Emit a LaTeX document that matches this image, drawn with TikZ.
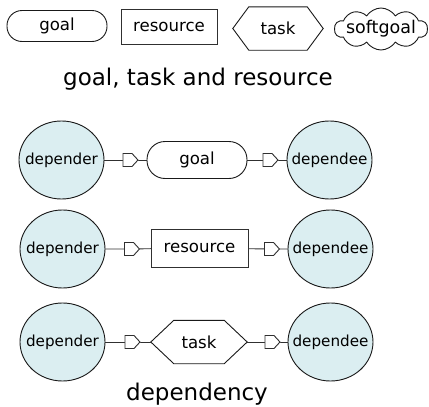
\documentclass[tikz,border=0pt]{standalone}
\usepackage{fontspec}
\setmainfont{DejaVu Sans}
\usepackage{xcolor}
\usetikzlibrary{shapes.geometric,shapes.symbols}
\definecolor{actorfill}{HTML}{DBEEF1}
\definecolor{edgegray}{HTML}{303030}
\tikzset{
  actor/.style={ellipse, draw=black!90, line width=0.9pt, fill=actorfill, minimum width=85pt, minimum height=78pt, inner sep=0pt, font=\fontsize{15.2}{17}\selectfont},
  goalbox/.style={rectangle, rounded corners=18pt, draw=black!90, line width=0.9pt, fill=white, minimum width=100pt, minimum height=37pt, inner sep=0pt, font=\fontsize{16.6}{19}\selectfont},
  resbox/.style={rectangle, draw=edgegray, line width=0.9pt, fill=white, minimum width=97pt, minimum height=38pt, inner sep=0pt, font=\fontsize{16.6}{19}\selectfont},
  taskbox/.style={rectangle, inner sep=0pt, minimum width=96pt, minimum height=43pt, font=\fontsize{16.6}{19}\selectfont},
  softbox/.style={cloud, draw=black!90, line width=0.9pt, cloud puffs=10, cloud puff arc=115, aspect=2.2, minimum width=93pt, minimum height=42pt, inner sep=0pt, font=\fontsize{17.5}{19}\selectfont},
  dmark/.style={signal, signal to=east, draw=edgegray, line width=0.9pt, fill=white, minimum width=15pt, minimum height=13pt, inner sep=0pt, signal pointer angle=95},
  link/.style={draw=edgegray, line width=0.9pt},
  caption/.style={font=\fontsize{23}{27}\selectfont, anchor=base},
  every picture/.style={line cap=round, line join=miter}
}
% hexagon round a task node: #1 node, #2 slant
\newcommand\hexout[2]{%
  \draw[black!90, line width=0.9pt] (#1.west) -- ([xshift=#2]#1.north west) -- ([xshift=-#2]#1.north east)
    -- (#1.east) -- ([xshift=-#2]#1.south east) -- ([xshift=#2]#1.south west) -- cycle;}

\begin{document}
\begin{tikzpicture}[x=1pt,y=-1pt]
  \useasboundingbox (0,0) rectangle (429,407);

  % the four kinds of element
  \node[goalbox, minimum height=31pt, rounded corners=15pt] (gl) at (57,26) {goal};
  \node[resbox, minimum width=96pt, minimum height=35pt] (rs) at (169,27) {resource};
  \node[taskbox, minimum width=90pt] (tk) at (278,28.5) {task};
  \hexout{tk}{16pt}
  \node[softbox] (sg) at (381,29) {\makebox[0pt]{softgoal}};
  \node[caption] (cap1) at (198,85) {goal, task and resource};

  % goal dependency
  \node[actor] (dr1) at (61.5,160) {\makebox[0pt]{depender}};
  \node[actor] (de1) at (329.5,160) {\makebox[0pt]{dependee}};
  \node[goalbox] (g1) at (197,160) {goal};
  \node[dmark] (m1a) at (127.5,160) {};
  \node[dmark] (m1b) at (267.5,160) {};
  \draw[link] (dr1) -- (m1a) -- (g1) -- (m1b) -- (de1);

  % resource dependency
  \node[actor] (dr2) at (62.5,249) {\makebox[0pt]{depender}};
  \node[actor] (de2) at (330.5,249) {\makebox[0pt]{dependee}};
  \node[resbox] (r2) at (199.5,248) {resource};
  \node[dmark] (m2a) at (129,249) {};
  \node[dmark] (m2b) at (269,249) {};
  \draw[link] (dr2) -- (m2a) -- (r2) -- (m2b) -- (de2);

  % task dependency
  \node[actor] (dr3) at (62.5,342) {\makebox[0pt]{depender}};
  \node[actor] (de3) at (330.5,342) {\makebox[0pt]{dependee}};
  \node[taskbox] (t3) at (199,342) {task};
  \hexout{t3}{23pt}
  \node[dmark] (m3a) at (129.5,342) {};
  \node[dmark] (m3b) at (269.5,342) {};
  \draw[link] (dr3) -- (m3a) -- (t3) -- (m3b) -- (de3);

  \node[caption] (cap2) at (197,400) {dependency};
\end{tikzpicture}
\end{document}
